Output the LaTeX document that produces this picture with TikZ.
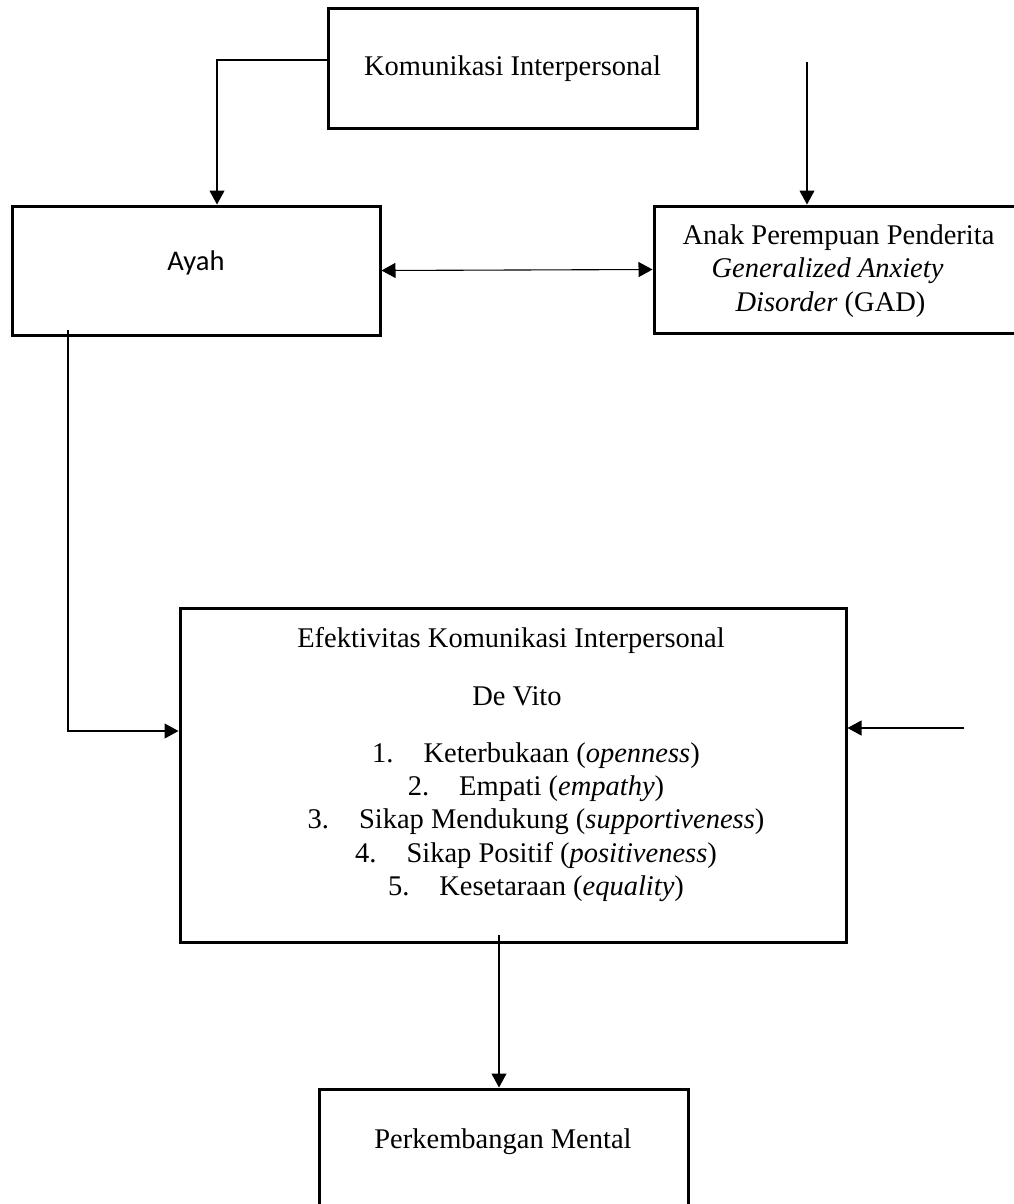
\documentclass[tikz,border=0pt]{standalone}
\usepackage{fontspec}
\setmainfont{Liberation Serif}
\newfontfamily\calibrifont{Carlito}
\usetikzlibrary{arrows.meta}
\begin{document}
\begin{tikzpicture}[x=1pt,y=-1pt,
  box/.style={draw, line width=3pt, inner sep=0pt},
  txt/.style={inner sep=0pt, anchor=base, font=\fontsize{28.5}{33.4}\selectfont},
  conn/.style={line width=1.1pt, -{Triangle[length=14pt,width=15pt]}},
  dconn/.style={line width=1.1pt, {Triangle[length=14pt,width=15pt]}-{Triangle[length=14pt,width=15pt]}}
]
\useasboundingbox (0,0) rectangle (1014,1204);
\clip (0,0) rectangle (1014,1204);
\fill[white] (0,0) rectangle (1014,1204);

% boxes
\node[box, minimum width=369pt, minimum height=120pt] (kom) at (512.5,69) {};
\node[txt] (komt) at (512.5,76) {Komunikasi Interpersonal};

\node[box, minimum width=368pt, minimum height=129pt] (ayah) at (196,270.5) {};
\node[txt, font=\calibrifont\fontsize{28.5}{33.4}\selectfont] (ayaht) at (196,270) {Ayah};

\node[box, minimum width=366pt, minimum height=127pt] (anak) at (837,269.5) {};
\node[txt] (anak1) at (838.5,244) {Anak Perempuan Penderita};
\node[txt] (anak2) at (827.5,277) {\textit{Generalized Anxiety}};
\node[txt] (anak3) at (830.5,311) {\textit{Disorder} (GAD)};

\node[box, minimum width=666pt, minimum height=334pt] (efek) at (513,775) {};
\node[txt] (e1) at (511,647) {Efektivitas Komunikasi Interpersonal};
\node[txt] (e2) at (517,705) {De Vito};
\node[txt] (l1) at (536,762) {1.\hspace{30pt}Keterbukaan (\textit{openness})};
\node[txt] (l2) at (536,795) {2.\hspace{30pt}Empati (\textit{empathy})};
\node[txt] (l3) at (536,828) {3.\hspace{30pt}Sikap Mendukung (\textit{supportiveness})};
\node[txt] (l4) at (536,862) {4.\hspace{30pt}Sikap Positif (\textit{positiveness})};
\node[txt] (l5) at (536,895) {5.\hspace{30pt}Kesetaraan (\textit{equality})};

\node[box, minimum width=369pt, minimum height=121pt] (perk) at (503.5,1149.5) {};
\node[txt] (perkt) at (503,1148) {Perkembangan Mental};

% connectors
\draw[conn] ([yshift=9pt]kom.west) -| ([xshift=21pt]ayah.north);
\coordinate (src2) at (807,62);
\draw[conn] (src2) -- (src2 |- anak.north);
\draw[dconn] (ayah.east) -- (anak.west);
\draw[conn] ([xshift=-128pt,yshift=7pt]ayah.south) |- ([yshift=44pt]efek.west);
\coordinate (src5) at (964,728);
\draw[conn] (src5) -- (src5 -| efek.east);
\draw[conn] ([xshift=-14pt,yshift=9pt]efek.south) -- ([xshift=-4.5pt]perk.north);
\end{tikzpicture}
\end{document}
